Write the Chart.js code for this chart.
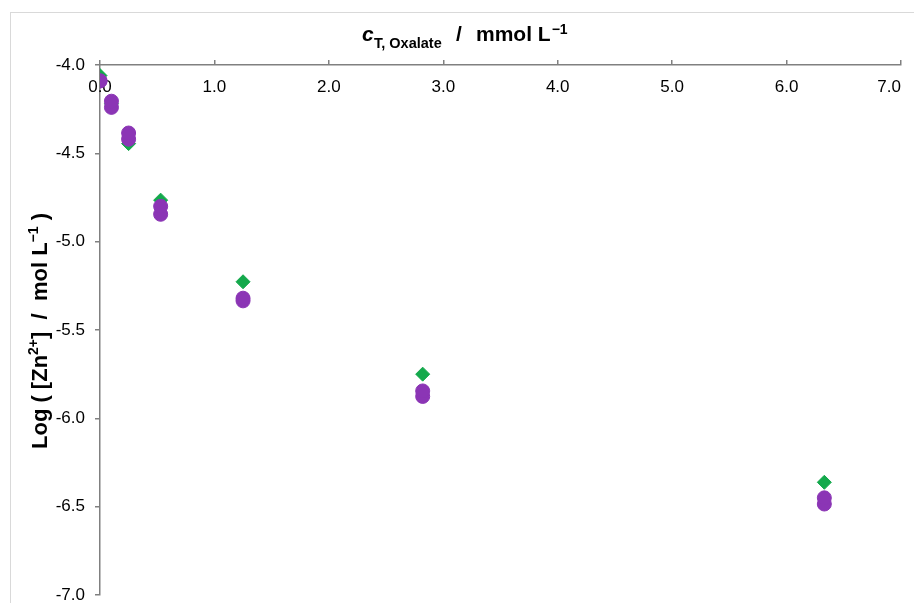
<!DOCTYPE html>
<html>
<head>
<meta charset="utf-8">
<script src="https://cdn.jsdelivr.net/npm/chart.js@4.4.0/dist/chart.umd.min.js"></script>
<style>
  html, body { margin: 0; padding: 0; background: #fff; }
</style>
</head>
<body>
<canvas id="zincChart" width="914" height="603"></canvas>
<script>
// total oxalate concentration (mmol/L)
var oxalateConc = [0, 0.1, 0.25, 0.53, 1.25, 2.82, 6.33];
// log [Zn2+] measured (green diamonds)
var logZnMeasured = [-4.06, -4.22, -4.445, -4.765, -5.227, -5.75, -6.362];
// log [Zn2+] calculated (purple circles, two overlapping sets)
var logZnCalcA = [-4.09, -4.205, -4.385, -4.80, -5.32, -5.845, -6.45];
var logZnCalcB = [-4.09, -4.24, -4.42, -4.845, -5.335, -5.876, -6.485];

var xMin = 0, xMax = 7, xStep = 1;
var yMin = -7, yMax = -4, yStep = 0.5;

var FONT = '"Liberation Sans", Arial, sans-serif';
var GREEN = '#14a94c';
var PURPLE = '#8b35b5';
var AXIS = '#808080';

function toPoints(xs, ys) {
  return xs.map(function (x, i) { return { x: x, y: ys[i] }; });
}

function drawRich(ctx, parts, x, y) {
  parts.forEach(function (p) {
    ctx.font = p.font;
    ctx.fillText(p.text, x, y + (p.dy || 0));
    x += ctx.measureText(p.text).width;
  });
}
function richWidth(ctx, parts) {
  var w = 0;
  parts.forEach(function (p) {
    ctx.font = p.font;
    w += ctx.measureText(p.text).width;
  });
  return w;
}

var extras = {
  id: 'extras',
  beforeDraw: function (chart) {
    var ctx = chart.ctx;
    ctx.save();
    ctx.fillStyle = '#fff';
    ctx.fillRect(0, 0, chart.width, chart.height);
    ctx.strokeStyle = '#d9d9d9';
    ctx.lineWidth = 1;
    ctx.strokeRect(10.5, 12.5, chart.width + 20, chart.height + 20);
    ctx.restore();
  },
  beforeDatasetsDraw: function (chart) {
    // x tick labels sit below the axis line, which is at the top
    var ctx = chart.ctx, sx = chart.scales.x;
    ctx.save();
    ctx.font = '17px ' + FONT;
    ctx.fillStyle = '#000';
    ctx.textBaseline = 'middle';
    sx.ticks.forEach(function (t) {
      var px = sx.getPixelForValue(t.value);
      var label = t.value.toFixed(1);
      var w = ctx.measureText(label).width;
      ctx.textAlign = (px + w / 2 > chart.width - 2) ? 'right' : 'center';
      ctx.fillText(label, px, 87);
    });
    ctx.restore();
  },
  afterDraw: function (chart) {
    var ctx = chart.ctx;
    ctx.save();
    ctx.fillStyle = '#000';
    ctx.textBaseline = 'alphabetic';
    ctx.textAlign = 'left';
    var big = 'bold 21px ' + FONT;
    var sub = 'bold 14.5px ' + FONT;
    var sup = 'bold 14px ' + FONT;

    // x axis title
    ctx.font = 'italic ' + big;
    ctx.fillText('c', 362, 41);
    ctx.font = sub;
    ctx.fillText('T, Oxalate', 374, 48);
    ctx.font = big;
    ctx.fillText('/', 456, 41);
    ctx.fillText('mmol L', 476, 41);
    var lx = 476 + ctx.measureText('mmol L').width + 1;
    ctx.font = sup;
    ctx.fillText('\u22121', lx, 34);

    // y axis title
    var yBig = 'bold 22px ' + FONT;
    var yParts = [
      { text: 'Log ( [Zn', font: yBig },
      { text: '2+', font: sup, dy: -9 },
      { text: ']  /  mol L', font: yBig },
      { text: '\u22121', font: sup, dy: -9 },
      { text: ' )', font: yBig }
    ];
    var tw = richWidth(ctx, yParts);
    ctx.translate(47, 331);
    ctx.rotate(-Math.PI / 2);
    drawRich(ctx, yParts, -tw / 2, 0);
    ctx.restore();
  }
};

new Chart(document.getElementById('zincChart'), {
  type: 'scatter',
  data: {
    datasets: [
      {
        label: 'calc A',
        data: toPoints(oxalateConc, logZnCalcA),
        pointStyle: 'circle',
        pointRadius: 7,
        backgroundColor: PURPLE,
        borderColor: PURPLE,
        borderWidth: 1
      },
      {
        label: 'calc B',
        data: toPoints(oxalateConc, logZnCalcB),
        pointStyle: 'circle',
        pointRadius: 7,
        backgroundColor: PURPLE,
        borderColor: PURPLE,
        borderWidth: 1
      },
      {
        label: 'measured',
        data: toPoints(oxalateConc, logZnMeasured),
        pointStyle: 'rectRot',
        pointRadius: 7,
        backgroundColor: GREEN,
        borderColor: GREEN,
        borderWidth: 1
      }
    ]
  },
  options: {
    responsive: false,
    animation: false,
    events: [],
    layout: { padding: { left: 0, top: 0, right: 13, bottom: 8 } },
    plugins: {
      legend: { display: false },
      tooltip: { enabled: false }
    },
    scales: {
      x: {
        type: 'linear',
        position: 'top',
        min: xMin,
        max: xMax,
        ticks: { display: false, stepSize: xStep },
        grid: { drawOnChartArea: false, drawTicks: true, tickLength: 5, color: AXIS, lineWidth: 1.5 },
        border: { color: AXIS, width: 1.5 },
        afterFit: function (scale) { scale.height = 65; scale.paddingLeft = 0; scale.paddingRight = 0; }
      },
      y: {
        type: 'linear',
        min: yMin,
        max: yMax,
        ticks: {
          stepSize: yStep,
          padding: 10,
          color: '#000',
          font: { family: FONT, size: 17 },
          callback: function (v) { return v.toFixed(1); }
        },
        grid: { drawOnChartArea: false, drawTicks: true, tickLength: 5, color: AXIS, lineWidth: 1.5 },
        border: { color: AXIS, width: 1.5 },
        afterFit: function (scale) { scale.width = 100; scale.paddingTop = 0; scale.paddingBottom = 0; }
      }
    }
  },
  plugins: [extras]
});
</script>
</body>
</html>
